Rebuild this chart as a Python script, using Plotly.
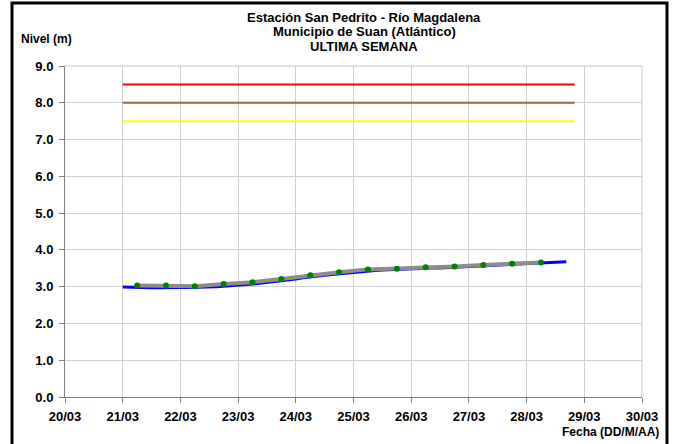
import plotly.graph_objects as go
import pandas as pd

# ---- data ----
# sensor (blue) readings every 3 hours starting 21/03 00:00
sensor_start = "2024-03-21 00:00"
sensor_values = [
    2.99, 2.98, 2.98, 2.97, 2.97, 2.97, 2.98, 2.98,
    2.98, 2.98, 2.98, 2.99, 2.99, 3.00, 3.01, 3.03,
    3.04, 3.05, 3.07, 3.09, 3.11, 3.14, 3.17, 3.19,
    3.21, 3.24, 3.27, 3.29, 3.31, 3.33, 3.35, 3.37,
    3.39, 3.41, 3.43, 3.44, 3.45, 3.46, 3.47, 3.48,
    3.48, 3.49, 3.50, 3.51, 3.51, 3.52, 3.53, 3.53,
    3.54, 3.55, 3.56, 3.57, 3.58, 3.59, 3.60, 3.61,
    3.62, 3.63, 3.64, 3.65, 3.66, 3.67,
]
sensor_end_time = "2024-03-28 16:30"
sensor_end_value = 3.68

# manual readings (gray line + green markers), 06:00 and 18:00
manual_times = [
    "2024-03-21 06:00", "2024-03-21 18:00", "2024-03-22 06:00", "2024-03-22 18:00",
    "2024-03-23 06:00", "2024-03-23 18:00", "2024-03-24 06:00", "2024-03-24 18:00",
    "2024-03-25 06:00", "2024-03-25 18:00", "2024-03-26 06:00", "2024-03-26 18:00",
    "2024-03-27 06:00", "2024-03-27 18:00", "2024-03-28 06:00",
]
manual_values = [3.03, 3.03, 3.01, 3.07, 3.12, 3.21, 3.31, 3.39,
                 3.47, 3.49, 3.53, 3.55, 3.59, 3.62, 3.66]

# alert thresholds
threshold_names = ["Roja", "Naranja", "Amarilla"]
threshold_values = [8.5, 8.0, 7.5]
threshold_colors = ["#FF0000", "#A0643A", "#FFFF00"]
threshold_span = ["2024-03-21 00:00", "2024-03-28 20:00"]

x_range = ["2024-03-20", "2024-03-30"]
y_ticks = [0, 1, 2, 3, 4, 5, 6, 7, 8, 9]

title_lines = ["Estación San Pedrito - Río Magdalena",
               "Municipio de Suan (Atlántico)",
               "ULTIMA SEMANA"]
y_title = "Nivel (m)"
x_title = "Fecha (DD/M/AA)"

# ---- figure ----
sensor_times = list(pd.date_range(sensor_start, periods=len(sensor_values), freq="3h"))
sensor_times.append(pd.Timestamp(sensor_end_time))
sensor_all = sensor_values + [sensor_end_value]

fig = go.Figure()

for name, val, col in zip(threshold_names, threshold_values, threshold_colors):
    fig.add_trace(go.Scatter(x=threshold_span, y=[val, val], mode="lines",
                             line=dict(color=col, width=2), name=name,
                             showlegend=False, hoverinfo="skip"))

fig.add_trace(go.Scatter(x=sensor_times, y=sensor_all, mode="lines",
                         line=dict(color="#0000FF", width=3), showlegend=False))
fig.add_trace(go.Scatter(x=manual_times, y=manual_values, mode="lines+markers",
                         line=dict(color="#8C8C8C", width=4),
                         marker=dict(color="#008000", size=6),
                         showlegend=False))

W, H = 690, 444
L, R, T, B = 65, 48, 66, 47
pw, ph = W - L - R, H - T - B

def px_x(p):
    return (p - L) / pw

def px_y(p):
    return (H - B - p) / ph

FONT = "Liberation Sans, Arial, sans-serif"

annotations = []
for line, yc in zip(title_lines, [17, 31.5, 46]):
    annotations.append(dict(text="<b>%s</b>" % line, xref="paper", yref="paper",
                            x=px_x(364), y=px_y(yc), xanchor="center", yanchor="middle",
                            showarrow=False, font=dict(size=13, family=FONT, color="#000")))
annotations.append(dict(text="<b>%s</b>" % y_title, xref="paper", yref="paper",
                        x=px_x(19), y=px_y(39), xanchor="left", yanchor="middle",
                        showarrow=False, font=dict(size=12, family=FONT, color="#000")))
annotations.append(dict(text="<b>%s</b>" % x_title, xref="paper", yref="paper",
                        x=px_x(661), y=px_y(432), xanchor="right", yanchor="middle",
                        showarrow=False, font=dict(size=12, family=FONT, color="#000")))

fig.update_layout(
    width=W, height=H,
    margin=dict(l=L, r=R, t=T, b=B),
    paper_bgcolor="white", plot_bgcolor="white",
    font=dict(family=FONT, size=11, color="#000000"),
    xaxis=dict(type="date", range=x_range, dtick=86400000, tickformat="%d/%m",
               showgrid=True, gridcolor="#D0D0D0", gridwidth=1,
               showline=True, linecolor="#808080", linewidth=1, mirror=False,
               ticks="outside", ticklen=5, tickcolor="#808080",
               ticklabelstandoff=2,
               tickfont=dict(size=13, family=FONT, weight="bold", color="#000"),
               zeroline=False, fixedrange=True),
    yaxis=dict(range=[0, 9], tickvals=y_ticks, tickformat=".1f",
               showgrid=True, gridcolor="#D0D0D0", gridwidth=1,
               showline=True, linecolor="#808080", linewidth=1,
               ticks="outside", ticklen=5, tickcolor="#808080",
               ticklabelstandoff=3,
               tickfont=dict(size=13, family=FONT, weight="bold", color="#000"),
               zeroline=False, fixedrange=True),
    shapes=[
        dict(type="line", xref="paper", yref="paper", x0=0, x1=1, y0=1, y1=1,
             line=dict(color="#C8C8C8", width=1)),
        dict(type="line", xref="paper", yref="paper", x0=1, x1=1, y0=0, y1=1,
             line=dict(color="#C8C8C8", width=1)),
        dict(type="rect", xref="paper", yref="paper",
             x0=px_x(12), x1=px_x(667), y0=px_y(447), y1=px_y(3),
             line=dict(color="black", width=3), fillcolor="rgba(0,0,0,0)", layer="above"),
    ],
    annotations=annotations,
)

fig.write_html("out.html", config={"displayModeBar": False},
               post_script="document.body.style.margin='0';document.body.style.overflow='hidden';")
